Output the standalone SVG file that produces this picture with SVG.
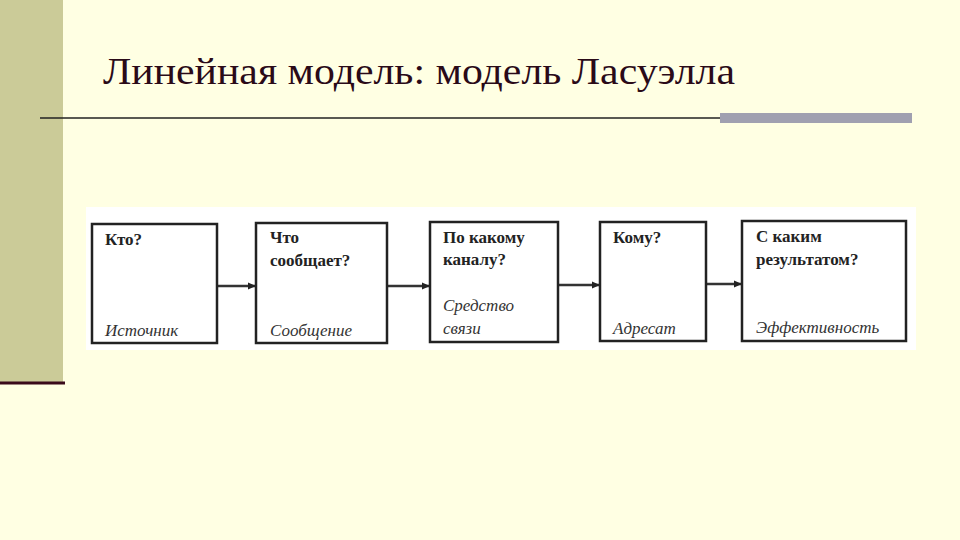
<svg xmlns="http://www.w3.org/2000/svg" width="960" height="540" viewBox="0 0 960 540">
<defs><marker id="ah" markerWidth="8" markerHeight="8" refX="7" refY="4" orient="auto" markerUnits="userSpaceOnUse"><path d="M0,0.5 L8,4 L0,7.5 Z" fill="#222"/></marker></defs>
<style>
.box{fill:#fff;stroke:#222;stroke-width:2.5}
.q{font-family:"Liberation Serif",serif;font-weight:bold;font-size:17px;fill:#222}
.a{font-family:"Liberation Serif",serif;font-style:italic;font-size:17px;fill:#333}
.c{stroke:#333;stroke-width:2.5;fill:none;marker-end:url(#ah)}
</style>
<rect width="960" height="540" fill="#FFFFE3"/>
<rect x="0" y="0" width="63" height="383" fill="#CBCB98"/>
<line x1="0" y1="383" x2="65" y2="383" stroke="#3a0a1a" stroke-width="3"/>
<text x="103" y="84" font-family="Liberation Serif, serif" font-size="38" fill="#2a0a18" textLength="632" lengthAdjust="spacingAndGlyphs">Линейная модель: модель Ласуэлла</text>
<line x1="40" y1="118" x2="720" y2="118" stroke="#222" stroke-width="1.5"/>
<rect x="720" y="113" width="192" height="10" fill="#A0A0B0"/>
<rect x="86" y="207" width="830" height="143" fill="#fff"/>
<g id="connectors">
<line class="c" x1="218" y1="286" x2="255" y2="286"/>
<line class="c" x1="388" y1="286" x2="429" y2="286"/>
<line class="c" x1="559" y1="285" x2="599" y2="285"/>
<line class="c" x1="707" y1="284" x2="741" y2="284"/>
</g>
<g id="n1"><rect class="box" x="92" y="224" width="125" height="119"/><text class="q" x="105" y="245">Кто?</text><text class="a" x="105" y="336">Источник</text></g>
<g id="n2"><rect class="box" x="256" y="223" width="131" height="120"/><text class="q" x="270" y="243">Что</text><text class="q" x="270" y="266">сообщает?</text><text class="a" x="270" y="336">Сообщение</text></g>
<g id="n3"><rect class="box" x="430" y="222" width="128" height="120"/><text class="q" x="443" y="243">По какому</text><text class="q" x="443" y="265">каналу?</text><text class="a" x="443" y="311">Средство</text><text class="a" x="443" y="334">связи</text></g>
<g id="n4"><rect class="box" x="600" y="222" width="106" height="119"/><text class="q" x="613" y="243">Кому?</text><text class="a" x="613" y="334">Адресат</text></g>
<g id="n5"><rect class="box" x="742" y="221" width="164" height="120"/><text class="q" x="756" y="242">С каким</text><text class="q" x="756" y="265">результатом?</text><text class="a" x="756" y="333">Эффективность</text></g>
</svg>
